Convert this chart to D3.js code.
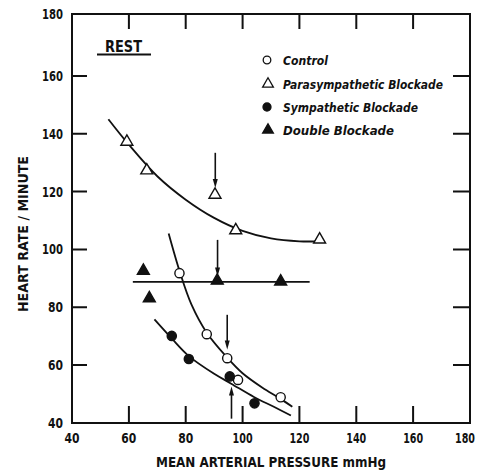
<!DOCTYPE html>
<html>
<head>
<meta charset="utf-8">
<script src="https://cdn.jsdelivr.net/npm/d3@7"></script>
<style>
  html, body { margin: 0; padding: 0; background: #fff; }
  svg { display: block; }
  text { font-family: "DejaVu Sans Condensed", "DejaVu Sans", sans-serif; fill: #111; }
</style>
</head>
<body>
<svg id="chart" width="481" height="473"></svg>
<script>
// Axis ticks
const xTicks = [40, 60, 80, 100, 120, 140, 160, 180];
const yTicks = [40, 60, 80, 100, 120, 140, 160, 180];

// Measured points: [mean arterial pressure mmHg, heart rate / minute]
const controlPts = [[77.8, 91.8], [87.4, 70.7], [94.6, 62.4], [98.4, 54.9], [113.4, 48.9]];
const paraPts    = [[59.3, 137.2], [66.3, 127.3], [90.3, 118.9], [97.6, 106.6], [127.1, 103.4]];
const sympPts    = [[75.1, 70.1], [81.1, 62.1], [95.5, 56.1], [104.2, 46.8]];
const doublePts  = [[65.1, 92.6], [67.2, 83.1], [91.1, 89.2], [113.4, 88.9]];

// Fitted curves (hand-drawn fits through each group)
const controlFit = [[74, 105.5], [78, 92], [82, 81], [87.4, 71.2], [94.6, 62.6], [100, 57.2], [107, 52.2], [113, 48.6], [117.5, 45.6]];
const paraFit    = [[52.8, 145], [60, 136.2], [70, 125.3], [80, 117.2], [90, 110.9], [100, 106.4], [110, 103.8], [120, 102.8], [127.1, 102.8]];
const sympFit    = [[69, 75.8], [75, 69.3], [81, 63.2], [90, 57], [96, 53.6], [104, 49], [111, 45.6], [117, 42.6]];
const doubleFit  = [[61.4, 88.8], [123.6, 88.8]];

// Arrows marking resting values: [x, y from, y to]
const arrows = [[90.4, 133.4, 121.2], [91.2, 103.3, 90.6], [94.6, 77.4, 65.4], [96.1, 41.5, 52.6]];

// Legend
const legendItems = [
  { label: "Control", sym: "circle", filled: false },
  { label: "Parasympathetic Blockade", sym: "triangle", filled: false },
  { label: "Sympathetic Blockade", sym: "circle", filled: true },
  { label: "Double Blockade", sym: "triangle", filled: true }
];

const svg = d3.select("#chart");
const padL = 72, padR = 470, padT = 14, padB = 423;

const x = d3.scaleLinear().domain([40, 180]).range([padL, padR]);
const y = d3.scaleLinear().domain([40, 180]).range([padB, padT + 4]);

const ink = "#111";

// Frame
svg.append("rect")
  .attr("x", padL).attr("y", padT)
  .attr("width", padR - padL).attr("height", padB - padT)
  .attr("fill", "none").attr("stroke", ink).attr("stroke-width", 2);

// Inward ticks on all four sides, drawn as one path
const tickLen = 15;
const tickX = xTicks.slice(1, -1);
const tickY = yTicks.slice(1, -1);
let tickPath = "";
tickX.forEach(v => {
  const px = x(v).toFixed(1);
  tickPath += `M${px},${padB}V${padB - tickLen - 2}`;
  tickPath += `M${px},${padT}V${padT + tickLen}`;
});
tickY.forEach(v => {
  const py = y(v).toFixed(1);
  tickPath += `M${padL},${py}H${padL + tickLen}`;
  tickPath += `M${padR},${py}H${padR - tickLen - 2}`;
});
svg.append("path")
  .attr("d", tickPath)
  .attr("fill", "none").attr("stroke", ink).attr("stroke-width", 2);

// Tick labels
svg.append("g").selectAll("text").data(xTicks).join("text")
  .attr("x", d => d === 180 ? x(d) - 5 : x(d)).attr("y", padB + 20)
  .attr("text-anchor", "middle")
  .attr("font-size", 14).attr("font-weight", "bold")
  .attr("textLength", d => d >= 100 ? 20 : 15).attr("lengthAdjust", "spacingAndGlyphs")
  .text(d => d);
svg.append("g").selectAll("text").data(yTicks).join("text")
  .attr("x", padL - 9).attr("y", d => (d === 180 ? padT : y(d)) + 5)
  .attr("text-anchor", "end")
  .attr("font-size", 14).attr("font-weight", "bold")
  .attr("textLength", d => d >= 100 ? 21 : 15).attr("lengthAdjust", "spacingAndGlyphs")
  .text(d => d);

// Axis titles
svg.append("text")
  .attr("x", 271).attr("y", 467)
  .attr("text-anchor", "middle")
  .attr("font-size", 14).attr("font-weight", "bold")
  .attr("textLength", 230).attr("lengthAdjust", "spacingAndGlyphs")
  .text("MEAN ARTERIAL PRESSURE mmHg");
svg.append("text")
  .attr("transform", "translate(28,234) rotate(-90)")
  .attr("text-anchor", "middle")
  .attr("font-size", 14).attr("font-weight", "bold")
  .attr("textLength", 156).attr("lengthAdjust", "spacingAndGlyphs")
  .text("HEART RATE / MINUTE");

// REST label
svg.append("text")
  .attr("x", 105).attr("y", 51.5)
  .attr("font-size", 15).attr("font-weight", "bold")
  .attr("textLength", 37).attr("lengthAdjust", "spacingAndGlyphs")
  .text("REST");
svg.append("line")
  .attr("x1", 97).attr("x2", 151).attr("y1", 54.5).attr("y2", 54.5)
  .attr("stroke", ink).attr("stroke-width", 1.8);

// Curves
const line = d3.line().x(d => x(d[0])).y(d => y(d[1])).curve(d3.curveCatmullRom.alpha(0.5));
[controlFit, paraFit, sympFit, doubleFit].forEach(fit => {
  svg.append("path").datum(fit)
    .attr("d", line)
    .attr("fill", "none").attr("stroke", ink).attr("stroke-width", 1.8);
});

// Arrows
const arrowG = svg.append("g");
arrows.forEach(([ax, y0, y1]) => {
  const px = x(ax), p0 = y(y0), p1 = y(y1);
  const dir = p1 > p0 ? 1 : -1;
  arrowG.append("line")
    .attr("x1", px).attr("x2", px).attr("y1", p0).attr("y2", p1 - dir * 6)
    .attr("stroke", ink).attr("stroke-width", 1.6);
  arrowG.append("path")
    .attr("d", `M${px - 2.5},${p1 - dir * 9} L${px + 2.5},${p1 - dir * 9} L${px},${p1} Z`)
    .attr("fill", ink);
});

// Markers
const triSym = d3.symbol().type(d3.symbolTriangle).size(62);
function drawPoints(pts, sym, filled) {
  const g = svg.append("g");
  if (sym === "circle") {
    g.selectAll("circle").data(pts).join("circle")
      .attr("cx", d => x(d[0])).attr("cy", d => y(d[1])).attr("r", 4.6)
      .attr("fill", filled ? ink : "#fff")
      .attr("stroke", ink).attr("stroke-width", 1.4);
  } else {
    g.selectAll("path").data(pts).join("path")
      .attr("transform", d => `translate(${x(d[0])},${y(d[1])})`)
      .attr("d", triSym)
      .attr("fill", filled ? ink : "#fff")
      .attr("stroke", ink).attr("stroke-width", 1.4);
  }
}
drawPoints(paraPts, "triangle", false);
drawPoints(doublePts, "triangle", true);
drawPoints(controlPts, "circle", false);
drawPoints(sympPts, "circle", true);

// Legend
const legY = [60, 84, 107, 130];
const leg = svg.append("g");
legendItems.forEach((it, i) => {
  const cy = legY[i];
  if (it.sym === "circle") {
    leg.append("circle").attr("cx", 267).attr("cy", cy).attr("r", it.filled ? 4 : 3.8)
      .attr("fill", it.filled ? ink : "#fff").attr("stroke", ink).attr("stroke-width", 1.3);
  } else {
    leg.append("path").attr("transform", `translate(268,${cy})`)
      .attr("d", d3.symbol().type(d3.symbolTriangle).size(50))
      .attr("fill", it.filled ? ink : "#fff").attr("stroke", ink).attr("stroke-width", 1.3);
  }
  leg.append("text")
    .attr("x", 283).attr("y", cy + 4.5)
    .attr("font-size", 12.5).attr("font-weight", "bold").attr("font-style", "italic")
    .attr("textLength", [45, 160, 135, 111][i]).attr("lengthAdjust", "spacingAndGlyphs")
    .text(it.label);
});
</script>
</body>
</html>
